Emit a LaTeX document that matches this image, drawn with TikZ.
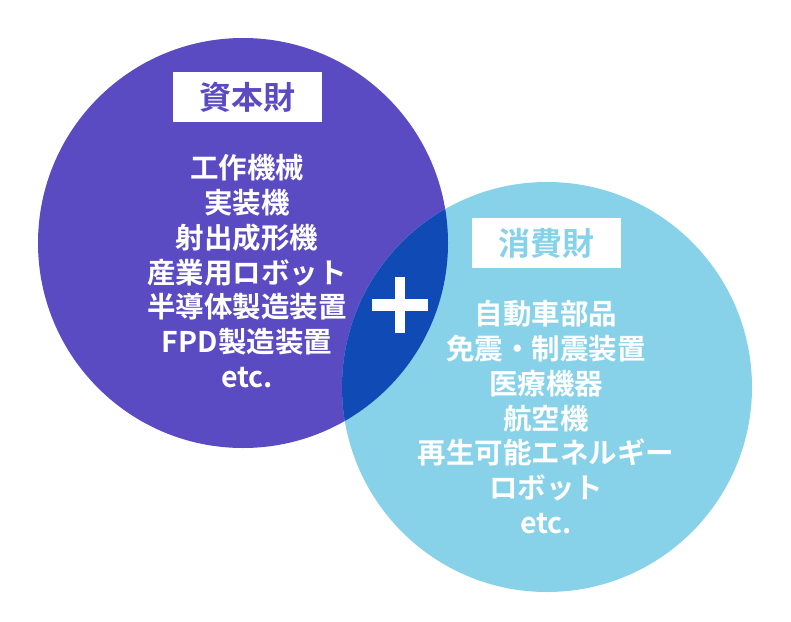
\documentclass[tikz,border=0pt]{standalone}
\usepackage{fontspec}
\newfontfamily\jp{Noto Sans CJK JP}[BoldFont={Noto Sans CJK JP Bold}]
\usetikzlibrary{positioning}
\definecolor{capcol}{RGB}{91,75,195}
\definecolor{concol}{RGB}{135,210,233}
\definecolor{overcol}{RGB}{15,74,181}
\tikzset{
  ring/.style={circle, inner sep=0pt, minimum size=410pt},
  tag/.style={fill=white, minimum width=149pt, minimum height=50pt, inner sep=0pt, font=\jp\bfseries\fontsize{32}{32}\selectfont},
  items/.style={align=center, text=white, font=\jp\bfseries\fontsize{28.5}{34.8}\selectfont}
}
\begin{document}
\begin{tikzpicture}[x=1pt, y=-1pt]
\useasboundingbox (0,0) rectangle (791,621);
% Circle 1: capital goods
\node[ring, fill=capcol] (capital) at (243,243) {};
% Circle 2: consumer goods
\node[ring, fill=concol] (consumer) at (547,387) {};
% Overlap
\begin{scope}
  \clip (capital.center) circle[radius=205pt];
  \fill[overcol] (consumer.center) circle[radius=205pt];
\end{scope}
% Plus sign
\coordinate (plus) at (400,305);
\fill[white] ([xshift=-28pt, yshift=-6pt]plus) rectangle ([xshift=28pt, yshift=6pt]plus);
\fill[white] ([xshift=-5pt, yshift=-28pt]plus) rectangle ([xshift=5pt, yshift=28pt]plus);
% Labels
\node[tag, text=capcol] (captag) at (247,97) {資本財};
\node[tag, text=concol] (contag) at (546,243) {消費財};
% Item lists
\node[items, anchor=north] (capitems) at (247,151) {工作機械\\実装機\\射出成形機\\産業用ロボット\\半導体製造装置\\FPD製造装置\\etc.};
\node[items, anchor=north] (conitems) at (546,297) {自動車部品\\免震・制震装置\\医療機器\\航空機\\再生可能エネルギー\\ロボット\\etc.};
\end{tikzpicture}
\end{document}
